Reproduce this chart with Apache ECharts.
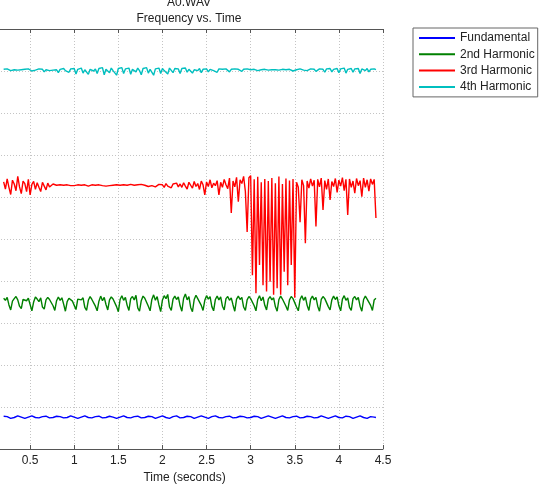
<!DOCTYPE html>
<html>
<head>
<meta charset="utf-8">
<script src="https://cdn.jsdelivr.net/npm/echarts@6/dist/echarts.min.js"></script>
<style>html,body{margin:0;padding:0;background:#fff;}#c{width:543px;height:487px;}</style>
</head>
<body>
<div id="c"></div>
<script>
// Sampling of the time axis (seconds)
var T0 = 0.2;
var DT = 0.02;

var seriesNames = ['Fundamental', '2nd Harmonic', '3rd Harmonic', '4th Harmonic'];
var xTicks = [0.5, 1, 1.5, 2, 2.5, 3, 3.5, 4, 4.5];

// Frequency (Hz), one value per time step
var fundamental = [
27.8,27.9,27.7,27.5,27.3,27.4,27.5,27.7,27.9,27.8,
27.6,27.4,27.3,27.5,27.6,27.8,27.9,27.7,27.5,27.3,
27.4,27.6,27.7,27.9,27.8,27.6,27.4,27.3,27.5,27.7,
27.8,27.9,27.7,27.5,27.4,27.3,27.5,27.7,27.9,27.8,
27.6,27.4,27.3,27.4,27.6,27.8,27.9,27.7,27.5,27.3,
27.4,27.5,27.7,27.9,27.8,27.6,27.4,27.3,27.5,27.7,
27.8,27.8,27.6,27.4,27.3,27.4,27.6,27.8,27.9,27.7,
27.5,27.3,27.4,27.6,27.7,27.9,27.8,27.6,27.4,27.3,
27.5,27.7,27.8,27.9,27.7,27.5,27.3,27.4,27.6,27.8,
27.9,27.7,27.5,27.4,27.3,27.5,27.7,27.8,27.9,27.6,
27.4,27.3,27.5,27.6,27.8,27.9,27.7,27.5,27.3,27.4,
27.6,27.8,27.9,27.8,27.6,27.4,27.3,27.5,27.7,27.8,
27.9,27.7,27.5,27.3,27.4,27.6,27.7,27.9,27.8,27.6,
27.4,27.3,27.5,27.6,27.8,27.9,27.7,27.5,27.4,27.3,
27.5,27.7,27.8,27.9,27.7,27.5,27.3,27.4,27.6,27.8,
27.9,27.8,27.6,27.4,27.3,27.4,27.6,27.8,27.9,27.7,
27.5,27.3,27.4,27.6,27.7,27.9,27.8,27.6,27.4,27.3,
27.5,27.7,27.8,27.9,27.7,27.5,27.4,27.3,27.5,27.7,
27.9,27.8,27.6,27.4,27.3,27.5,27.6,27.8,27.9,27.7,
27.5,27.3,27.4,27.6,27.8,27.9,27.7,27.5,27.3,27.4,
27.6,27.8,27.9,27.7,27.5,27.4,27.3,27.5,27.7,27.8,
27.6,27.5
];

var harmonic2 = [
55.9,55.4,56.1,54.3,53.1,55.2,55.8,56.3,55.5,54.0,
53.4,55.6,56.0,55.3,55.9,54.4,52.9,55.0,56.2,55.7,
55.1,56.0,53.8,53.3,55.5,56.1,55.6,55.9,54.1,53.0,
55.3,56.2,55.4,56.0,54.5,52.8,55.1,55.9,56.3,55.2,
54.2,53.2,55.7,56.1,55.5,56.0,53.7,53.0,55.4,56.3,
55.6,55.9,54.0,52.9,55.2,56.4,55.3,56.1,54.4,53.1,
55.5,56.2,55.7,56.0,53.9,52.7,55.6,56.5,55.4,56.1,
54.2,53.0,55.8,56.3,55.5,56.6,53.6,52.8,55.3,56.4,
55.9,56.2,54.0,52.9,55.6,56.7,55.4,56.3,54.3,52.7,
55.5,56.5,55.8,56.8,53.8,53.0,55.7,56.4,55.6,56.2,
54.1,52.8,55.9,56.9,55.5,56.3,53.7,52.7,55.6,56.6,
55.8,56.1,54.2,53.0,55.4,56.5,55.7,56.3,53.9,52.9,
55.6,56.4,55.5,56.2,54.0,53.1,55.8,56.3,55.4,56.0,
54.3,52.8,55.7,56.4,55.6,56.1,53.8,53.0,55.5,56.3,
55.8,56.0,54.1,52.9,55.6,56.5,55.3,56.2,54.2,53.1,
55.7,56.3,55.5,56.0,53.9,52.8,55.6,56.4,55.7,56.1,
54.0,53.0,55.5,56.3,55.8,56.0,53.8,52.9,55.6,56.5,
55.4,56.2,54.2,53.0,55.7,56.4,55.5,56.1,54.0,52.8,
55.6,56.3,55.8,56.0,53.9,53.1,55.5,56.4,55.6,56.2,
54.1,52.9,55.7,56.5,55.4,56.0,53.7,53.0,55.8,56.3,
55.5,56.1,54.0,52.8,55.6,56.4,55.7,56.0,54.2,53.0,
55.5,55.9
];

var harmonic3 = [
83.6,81.9,84.3,82.3,80.6,84.0,83.1,81.5,84.9,82.4,
80.8,83.8,83.2,81.3,84.2,80.5,83.0,83.7,81.8,83.4,
82.3,81.3,83.5,82.6,81.7,83.3,82.4,82.0,83.1,82.7,
82.8,82.6,82.9,82.7,82.8,82.6,82.9,82.8,82.7,82.9,
82.7,82.8,82.9,82.6,82.8,82.7,82.9,82.8,82.6,82.8,
82.9,82.7,82.8,82.6,82.9,82.8,82.7,82.9,82.6,82.8,
82.7,82.9,82.8,82.6,82.9,82.7,82.8,82.5,82.9,82.7,
82.8,82.6,83.0,82.7,82.8,82.5,82.9,82.7,83.0,82.6,
82.8,83.0,82.5,82.9,82.7,83.1,82.4,82.8,83.0,82.6,
82.9,82.3,83.2,82.6,83.0,82.2,83.1,82.7,83.3,82.4,
83.1,82.3,83.4,82.6,81.9,83.5,82.8,82.1,83.7,82.5,
83.2,81.8,83.8,82.9,80.5,83.6,82.5,84.1,82.2,83.3,
82.7,83.9,80.5,83.5,82.3,84.2,82.9,82.0,84.5,76.2,
83.8,82.4,84.7,78.9,84.1,83.2,84.9,81.3,71.7,84.6,
85.1,61.4,84.2,57.1,84.8,63.8,83.5,59.0,84.3,57.5,
83.8,59.8,84.5,56.7,83.3,58.3,84.9,56.7,83.1,62.2,
84.4,59.0,83.9,63.8,84.3,56.0,83.5,82.3,74.0,84.1,
82.7,69.0,83.8,82.1,84.3,82.6,84.0,73.0,84.2,82.4,
84.5,76.9,83.9,81.8,84.3,79.3,83.7,82.5,84.4,81.1,
84.0,82.6,84.6,81.5,84.2,75.7,84.3,82.3,83.8,80.9,
84.4,82.7,83.9,80.1,84.5,82.3,84.1,81.4,84.3,83.0,
84.2,75.0
];

var harmonic4 = [
110.4,110.2,110.5,110.3,110.1,110.4,110.3,110.5,110.2,110.4,
110.3,110.1,110.4,110.2,110.5,110.3,110.0,110.4,110.2,110.3,
110.5,110.2,110.4,109.8,110.3,110.5,110.1,110.4,110.2,110.6,
110.3,109.6,110.4,110.2,110.6,110.1,110.4,109.7,110.5,110.2,
110.6,109.3,110.4,110.2,110.7,109.5,110.3,110.6,109.2,110.4,
110.7,110.0,110.5,109.4,110.6,110.2,110.8,109.1,110.4,110.6,
109.6,110.7,110.1,110.5,109.0,110.6,110.3,110.8,109.4,110.5,
110.2,110.7,109.2,110.4,110.6,109.8,110.7,110.1,109.1,110.6,
110.3,110.8,109.5,110.4,110.6,109.0,110.5,110.2,110.7,109.4,
110.6,110.1,110.5,109.3,110.7,110.3,109.6,110.6,110.2,110.5,
109.4,110.6,110.2,110.7,109.7,110.4,110.6,109.5,110.3,110.5,
110.1,110.6,109.6,110.4,110.2,110.5,109.8,110.4,110.6,110.1,
110.4,109.7,110.5,110.2,110.4,110.0,110.5,110.3,109.8,110.4,
110.2,110.5,110.1,110.4,110.3,109.9,110.4,110.2,110.5,110.3,
110.3,110.2,110.4,110.3,110.1,110.4,110.3,110.2,110.4,110.3,
110.2,110.4,110.3,110.1,110.3,110.4,110.2,110.3,110.4,110.2,
110.3,110.2,110.4,110.3,110.0,110.4,110.3,110.2,110.5,110.3,
110.2,110.4,110.1,110.3,110.5,110.2,110.4,109.9,110.3,110.5,
110.1,110.4,109.7,110.5,110.2,110.6,109.8,110.4,110.2,110.6,
109.6,110.5,110.3,110.7,109.5,110.4,110.2,110.6,109.7,110.5,
110.2,110.6,109.4,110.5,110.3,110.1,110.6,109.8,110.4,110.2,
110.5,110.3
];

var colors = ['#0000ff', '#008000', '#ff0000', '#00bfbf'];

function pairs(arr) {
  return arr.map(function (v, i) { return [+(T0 + i * DT).toFixed(2), v]; });
}

var allData = [fundamental, harmonic2, harmonic3, harmonic4];
var FONT = 'Liberation Sans, Arial, sans-serif';

var chart = echarts.init(document.getElementById('c'), null, {renderer: 'canvas'});
chart.setOption({
  animation: false,
  backgroundColor: '#ffffff',
  title: [
    {text: 'A0.WAV', left: 184, top: -8, textAlign: 'center',
     textStyle: {fontSize: 12, fontWeight: 'normal', color: '#222', fontFamily: FONT}},
    {text: 'Frequency vs. Time', left: 184, top: 8, textAlign: 'center',
     textStyle: {fontSize: 12, fontWeight: 'normal', color: '#222', fontFamily: FONT}}
  ],
  legend: {
    orient: 'vertical',
    left: 413, top: 28,
    padding: [3, 3, 3, 6],
    itemGap: 2.3,
    itemWidth: 36, itemHeight: 2,
    icon: 'rect',
    borderColor: '#666', borderWidth: 1,
    backgroundColor: '#fff',
    textStyle: {fontSize: 12, color: '#222', fontFamily: FONT, lineHeight: 14, padding: [0, 0, 0, 0]},
    data: seriesNames
  },
  grid: {left: -14, right: 160, top: 29, bottom: 38, containLabel: false, outerBoundsMode: 'none'},
  xAxis: [
    {type: 'value', position: 'bottom', min: 0, max: 4.5, interval: 0.5,
     name: 'Time (seconds)', nameLocation: 'middle', nameGap: 20,
     nameTextStyle: {fontSize: 12, color: '#222', fontFamily: FONT},
     axisLine: {show: true, lineStyle: {color: '#555', width: 1}},
     axisTick: {show: true, inside: true, length: 4, lineStyle: {color: '#555'}},
     axisLabel: {fontSize: 12, color: '#222', fontFamily: FONT, margin: 6,
       formatter: function (v) { return xTicks.indexOf(v) >= 0 ? String(v) : ''; }},
     splitLine: {show: true, lineStyle: {color: '#c4c4c4', type: [1, 2], width: 1}}},
    {type: 'value', position: 'top', min: 0, max: 4.5, interval: 0.5,
     axisLine: {show: true, lineStyle: {color: '#555', width: 1}},
     axisTick: {show: true, inside: true, length: 4, lineStyle: {color: '#555'}},
     axisLabel: {show: false}, splitLine: {show: false}}
  ],
  yAxis: [
    {type: 'value', position: 'left', min: 20, max: 120, interval: 10,
     axisLine: {show: false}, axisTick: {show: false}, axisLabel: {show: false},
     splitLine: {show: true, lineStyle: {color: '#c4c4c4', type: [1, 2], width: 1}}},
    {type: 'value', position: 'right', min: 20, max: 120, interval: 10,
     axisLine: {show: true, lineStyle: {color: '#555', width: 1}},
     axisTick: {show: true, inside: true, length: 4, lineStyle: {color: '#555'}},
     axisLabel: {show: false}, splitLine: {show: false}}
  ],
  series: seriesNames.map(function (name, k) {
    return {
      name: name, type: 'line', xAxisIndex: 0, yAxisIndex: 0,
      data: pairs(allData[k]),
      showSymbol: false, symbol: 'none',
      lineStyle: {color: colors[k], width: 1.4},
      itemStyle: {color: colors[k]},
      z: 2 + k
    };
  })
});
</script>
</body>
</html>
